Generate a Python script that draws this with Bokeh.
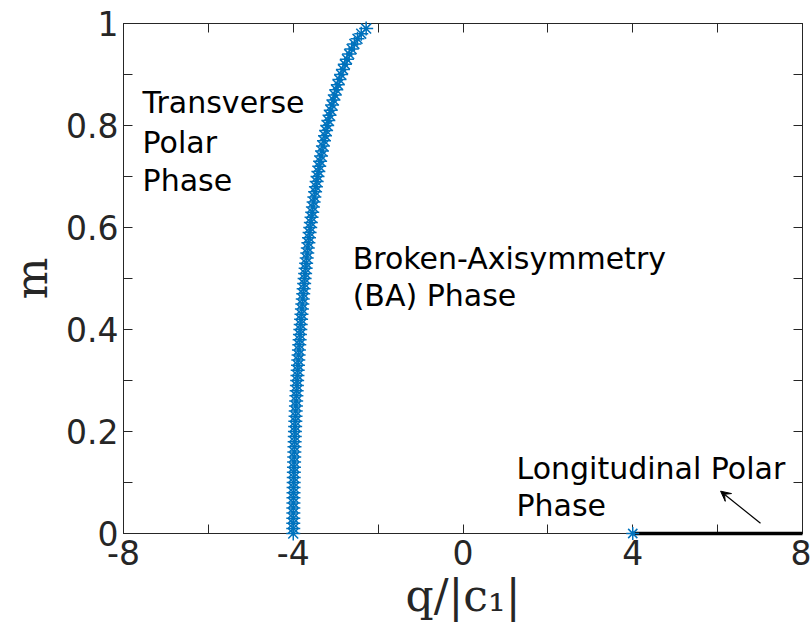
from bokeh.plotting import figure
from bokeh.models import FixedTicker, LinearAxis, Range1d, Arrow, VeeHead, NumeralTickFormatter
from bokeh.embed import file_html
from bokeh.resources import INLINE
from bokeh.core.properties import value

# Magnetization m along the transverse-polar / BA phase boundary
m_boundary = [
    0.00, 0.01, 0.02, 0.03, 0.04, 0.05, 0.06, 0.07, 0.08, 0.09,
    0.10, 0.11, 0.12, 0.13, 0.14, 0.15, 0.16, 0.17, 0.18, 0.19,
    0.20, 0.21, 0.22, 0.23, 0.24, 0.25, 0.26, 0.27, 0.28, 0.29,
    0.30, 0.31, 0.32, 0.33, 0.34, 0.35, 0.36, 0.37, 0.38, 0.39,
    0.40, 0.41, 0.42, 0.43, 0.44, 0.45, 0.46, 0.47, 0.48, 0.49,
    0.50, 0.51, 0.52, 0.53, 0.54, 0.55, 0.56, 0.57, 0.58, 0.59,
    0.60, 0.61, 0.62, 0.63, 0.64, 0.65, 0.66, 0.67, 0.68, 0.69,
    0.70, 0.71, 0.72, 0.73, 0.74, 0.75, 0.76, 0.77, 0.78, 0.79,
    0.80, 0.81, 0.82, 0.83, 0.84, 0.85, 0.86, 0.87, 0.88, 0.89,
    0.90, 0.91, 0.92, 0.93, 0.94, 0.95, 0.96, 0.97, 0.98, 0.99,
]
# q/|c1| at each m on that boundary
q_boundary = [
    -4.000, -4.000, -4.000, -3.999, -3.998, -3.998, -3.996, -3.995, -3.994, -3.992,
    -3.990, -3.988, -3.986, -3.983, -3.980, -3.977, -3.974, -3.971, -3.967, -3.964,
    -3.960, -3.955, -3.951, -3.946, -3.942, -3.937, -3.931, -3.926, -3.920, -3.914,
    -3.908, -3.901, -3.895, -3.888, -3.881, -3.874, -3.866, -3.858, -3.850, -3.842,
    -3.833, -3.824, -3.815, -3.806, -3.796, -3.786, -3.776, -3.765, -3.755, -3.743,
    -3.732, -3.720, -3.708, -3.696, -3.683, -3.670, -3.657, -3.643, -3.629, -3.615,
    -3.600, -3.585, -3.569, -3.553, -3.537, -3.520, -3.503, -3.485, -3.466, -3.448,
    -3.428, -3.408, -3.388, -3.367, -3.345, -3.323, -3.300, -3.276, -3.252, -3.226,
    -3.200, -3.173, -3.145, -3.116, -3.085, -3.054, -3.021, -2.986, -2.950, -2.912,
    -2.872, -2.829, -2.784, -2.735, -2.682, -2.624, -2.560, -2.486, -2.398, -2.282,
]

# Longitudinal polar phase: the segment m = 0, 4 <= q/|c1| <= 8
lp_q = [4, 8]
lp_m = [0, 0]
# Its end point at q/|c1| = 4
lp_start_q = [4]
lp_start_m = [0]

x_major = [-8, -4, 0, 4, 8]
x_minor = [-6, -2, 2, 6]
x_labels = {-8: "-8", -4: "-4", 0: "0", 4: "4", 8: "8"}
y_major = [0, 0.2, 0.4, 0.6, 0.8, 1]
y_minor = [0.1, 0.3, 0.5, 0.7, 0.9]

BLUE = "#0072BD"
AXIS = "#262626"
TICK_FONT = "DejaVu Sans"
LABEL_FONT = "DejaVu Serif"

p = figure(
    width=811, height=625,
    x_range=Range1d(-8, 8), y_range=Range1d(0, 1),
    output_backend="svg", toolbar_location=None,
    min_border_left=123, min_border_right=9,
    min_border_top=23, min_border_bottom=92,
)
p.grid.visible = False
p.outline_line_color = AXIS
p.outline_line_width = 1
p.background_fill_color = "white"
p.border_fill_color = "white"


def style_axis(ax, major, minor, show_labels):
    ax.ticker = FixedTicker(ticks=major, minor_ticks=minor)
    ax.axis_line_color = AXIS
    ax.major_tick_line_color = AXIS
    ax.minor_tick_line_color = AXIS
    ax.major_tick_in = 9
    ax.major_tick_out = 0
    ax.minor_tick_in = 9
    ax.minor_tick_out = 0
    if show_labels:
        ax.major_label_text_font = TICK_FONT
        ax.major_label_text_font_size = "33px"
        ax.major_label_text_color = AXIS
    else:
        # frame ticks only on the mirrored sides
        ax.major_label_text_font_size = "1px"
        ax.major_label_text_color = None
        ax.major_label_standoff = 0


style_axis(p.xaxis[0], x_major, x_minor, True)
style_axis(p.yaxis[0], y_major, y_minor, True)
p.xaxis[0].major_label_overrides = x_labels
p.yaxis[0].formatter = NumeralTickFormatter(format="0.[0]")
p.xaxis[0].major_label_standoff = 6
p.yaxis[0].major_label_standoff = 5

p.xaxis[0].axis_label = "q/|c\u2081|"
p.yaxis[0].axis_label = "m"
for ax in (p.xaxis[0], p.yaxis[0]):
    ax.axis_label_text_font = LABEL_FONT
    ax.axis_label_text_font_size = "44px"
    ax.axis_label_text_font_style = "normal"
    ax.axis_label_text_color = AXIS
p.xaxis[0].axis_label_standoff = 2
p.yaxis[0].axis_label_standoff = 6

top_axis = LinearAxis()
style_axis(top_axis, x_major, x_minor, False)
p.add_layout(top_axis, "above")
right_axis = LinearAxis()
style_axis(right_axis, y_major, y_minor, False)
p.add_layout(right_axis, "right")

# Phase boundary markers
p.scatter(q_boundary, m_boundary, marker="asterisk", size=14,
          line_color=BLUE, line_width=1.5, level="overlay")

# Longitudinal polar phase line and its start point
p.line(lp_q, lp_m, line_color="black", line_width=3.5, level="overlay")
p.scatter(lp_start_q, lp_start_m, marker="asterisk", size=13,
          line_color=BLUE, line_width=1.5, level="overlay")

# Phase labels
text_lines = [
    ("Transverse", -7.55, 0.845),
    ("Polar", -7.55, 0.767),
    ("Phase", -7.55, 0.692),
    ("Broken-Axisymmetry", -2.60, 0.539),
    ("(BA) Phase", -2.60, 0.467),
    ("Longitudinal Polar", 1.26, 0.127),
    ("Phase", 1.26, 0.055),
]
p.text(
    x=[t[1] for t in text_lines], y=[t[2] for t in text_lines],
    text=[t[0] for t in text_lines],
    text_font=value("DejaVu Sans"), text_font_size="30px",
    text_color="black", text_align="left", text_baseline="middle",
)

# Arrow pointing at the longitudinal polar line
p.add_layout(Arrow(
    x_start=7.01, y_start=0.020, x_end=6.07, y_end=0.083,
    line_color="black", line_width=1.2,
    end=VeeHead(size=10, fill_color="black", line_color="black"),
))

open("out.html", "w").write(file_html(p, INLINE))
